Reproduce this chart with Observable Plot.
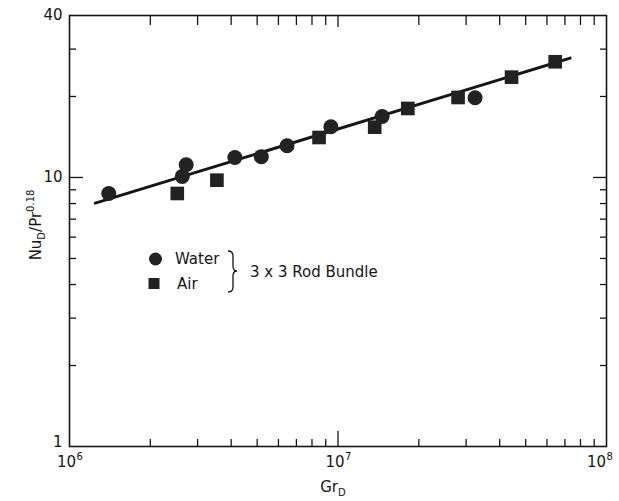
<!DOCTYPE html>
<html><head><meta charset="utf-8">
<script src="https://cdn.jsdelivr.net/npm/d3@7"></script>
<script src="https://cdn.jsdelivr.net/npm/@observablehq/plot@0.6"></script>
<style>body{margin:0;background:#fff}</style>
</head><body><div id="chart"></div>
<script>
// Water (circles)
const waterGr = [1.40e6, 2.63e6, 2.72e6, 4.13e6, 5.18e6, 6.46e6, 9.41e6, 1.46e7, 3.24e7];
const waterNu = [8.72, 10.09, 11.15, 11.87, 11.95, 13.12, 15.44, 16.86, 19.79];
// Air (squares)
const airGr = [2.52e6, 3.54e6, 8.50e6, 1.37e7, 1.82e7, 2.80e7, 4.43e7, 6.44e7];
const airNu = [8.72, 9.77, 14.08, 15.38, 18.05, 19.83, 23.60, 26.92];
// correlation line end points
const fitGr = [1.247e6, 7.32e7];
const fitNu = [8.03, 27.77];
// ticks
const xTickValues = [1e6, 1e7];
const xTickBase = ["10", "10"];
const xTickExponents = ["6", "7"];
const xLastTick = [1e8];
const xLastBase = ["10"];
const xLastExponent = ["8"];
const xMinorTicks = [2e6, 3e6, 4e6, 5e6, 6e6, 7e6, 8e6, 9e6, 2e7, 3e7, 4e7, 5e7, 6e7, 7e7, 8e7, 9e7];
const xMajorTicks = [1e7];
const yTickValues = [10, 40];
const yTickLabels = ["10", "40"];
const yBottomTick = [1];
const yBottomLabel = ["1"];
const yMinorTicks = [2, 3, 4, 5, 6, 7, 8, 9, 20, 30];
const yMajorTicks = [10];

const water = waterGr.map((g, i) => ({gr: g, nu: waterNu[i]}));
const air = airGr.map((g, i) => ({gr: g, nu: airNu[i]}));
const fit = fitGr.map((g, i) => ({gr: g, nu: fitNu[i]}));

const ink = "#151515";
const tk = {stroke: ink, strokeWidth: 1.3, fill: "none", label: null};

const chart = Plot.plot({
  width: 619, height: 501,
  marginLeft: 69, marginRight: 13, marginTop: 15, marginBottom: 55,
  x: {type: "log", domain: [1e6, 1e8]},
  y: {type: "log", domain: [1, 40]},
  style: {fontFamily: "DejaVu Sans, sans-serif", fontSize: "15px", color: ink, background: "#fff"},
  marks: [
    Plot.frame({stroke: ink, strokeWidth: 1.6}),
    Plot.axisX(xMinorTicks, {...tk, anchor: "bottom", tickSize: 7, dy: -7}),
    Plot.axisX(xMajorTicks, {...tk, anchor: "bottom", tickSize: 15, dy: -15}),
    Plot.axisX(xMinorTicks, {...tk, anchor: "top", tickSize: 9, dy: 9}),
    Plot.axisX(xMajorTicks, {...tk, anchor: "top", tickSize: 11, dy: 11}),
    Plot.axisY(yMinorTicks, {...tk, anchor: "left", tickSize: 7, dx: 7}),
    Plot.axisY(yMajorTicks, {...tk, anchor: "left", tickSize: 14, dx: 14}),
    Plot.axisY(yMinorTicks, {...tk, anchor: "right", tickSize: 7, dx: -7}),
    Plot.axisY(yMajorTicks, {...tk, anchor: "right", tickSize: 14, dx: -14}),
    Plot.axisY(yTickValues, {anchor: "left", tickSize: 0, tickPadding: 7, label: null, fill: ink,
      tickFormat: d => yTickLabels[yTickValues.indexOf(d)]}),
    Plot.axisY(yBottomTick, {anchor: "left", tickSize: 0, tickPadding: 7, label: null, fill: ink, dy: -4,
      tickFormat: d => yBottomLabel[yBottomTick.indexOf(d)]}),
    Plot.text(xTickValues, {x: d => d, text: (d, i) => xTickBase[i], frameAnchor: "bottom", dy: 20, dx: -3, fontSize: 15, fill: ink}),
    Plot.text(xTickValues, {x: d => d, text: (d, i) => xTickExponents[i], frameAnchor: "bottom", dy: 13, dx: 7, fontSize: 10, textAnchor: "start", fill: ink}),
    Plot.text(xLastTick, {x: d => d, text: (d, i) => xLastBase[i], frameAnchor: "bottom", dy: 20, dx: -10, fontSize: 15, fill: ink}),
    Plot.text(xLastTick, {x: d => d, text: (d, i) => xLastExponent[i], frameAnchor: "bottom", dy: 13, dx: 0, fontSize: 10, textAnchor: "start", fill: ink}),
    Plot.line(fit, {x: "gr", y: "nu", stroke: ink, strokeWidth: 3}),
    Plot.dot(water, {x: "gr", y: "nu", r: 7.5, symbol: "circle", fill: "#222", stroke: "none"}),
    Plot.dot(air, {x: "gr", y: "nu", r: 7.7, symbol: "square", fill: "#222", stroke: "none"})
  ]
});
document.getElementById("chart").append(chart);

// axis titles and legend
const svg = d3.select(chart);
const fam = "DejaVu Sans, sans-serif";
const yl = svg.append("text").attr("transform", "rotate(-90)").attr("x", -225).attr("y", 41)
  .attr("text-anchor", "middle").attr("font-family", fam).attr("font-size", 15).attr("fill", ink);
yl.append("tspan").text("Nu");
yl.append("tspan").attr("font-size", 10).attr("dy", 4).text("D");
yl.append("tspan").attr("dy", -4).text("/Pr");
yl.append("tspan").attr("font-size", 10).attr("dy", -7).text("0.18");

const xl = svg.append("text").attr("x", 333).attr("y", 492)
  .attr("text-anchor", "middle").attr("font-family", fam).attr("font-size", 15).attr("fill", ink);
xl.append("tspan").text("Gr");
xl.append("tspan").attr("font-size", 10).attr("dy", 4).text("D");

const lg = svg.append("g").attr("font-family", fam).attr("font-size", 15).attr("fill", ink)
  .attr("text-anchor", "start");
lg.append("circle").attr("cx", 155.5).attr("cy", 259).attr("r", 6.5).attr("fill", "#222");
lg.append("rect").attr("x", 148.5).attr("y", 278).attr("width", 11).attr("height", 11).attr("fill", "#222");
lg.append("text").attr("x", 175).attr("y", 259).attr("dy", "0.35em").text("Water");
lg.append("text").attr("x", 177).attr("y", 284).attr("dy", "0.35em").text("Air");
lg.append("path").attr("d", "M228,251 Q233,251 233,256 L233,266 Q233,271 237,271 Q233,271 233,276 L233,287 Q233,292 228,292")
  .attr("fill", "none").attr("stroke", ink).attr("stroke-width", 1.3);
lg.append("text").attr("x", 250).attr("y", 272).attr("dy", "0.35em").text("3 x 3 Rod Bundle");
</script>
</body></html>
